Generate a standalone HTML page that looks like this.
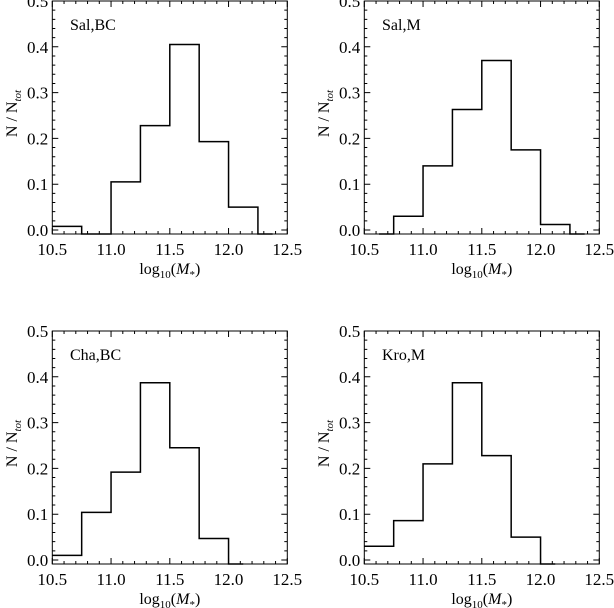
<!DOCTYPE html>
<html><head><meta charset="utf-8"><style>
html,body{margin:0;padding:0;background:#fff;}
svg{display:block;font-family:"Liberation Serif",serif;}
</style></head><body>
<svg id="chart" width="614" height="608" viewBox="0 0 614 608"></svg>
<script>
const panelLabels = ["Sal,BC","Sal,M","Cha,BC","Kro,M"];
const edgesSalBC = [10.5,10.75,11.0,11.25,11.5,11.75,12.0,12.25,12.375];
const valuesSalBC = [0.008,0,0.105,0.228,0.405,0.193,0.05,0];
const edgesSalM = [10.625,10.75,11.0,11.25,11.5,11.75,12.0,12.25,12.375];
const valuesSalM = [0,0.03,0.14,0.263,0.37,0.175,0.012,0];
const edgesChaBC = [10.5,10.75,11.0,11.25,11.5,11.75,12.0,12.125];
const valuesChaBC = [0.01,0.104,0.192,0.387,0.245,0.047,0];
const edgesKroM = [10.5,10.75,11.0,11.25,11.5,11.75,12.0,12.125];
const valuesKroM = [0.03,0.086,0.21,0.387,0.228,0.05,0];
const xTicks = ["10.5","11.0","11.5","12.0","12.5"];
const yTicks = ["0.0","0.1","0.2","0.3","0.4","0.5"];

const allEdges = [edgesSalBC, edgesSalM, edgesChaBC, edgesKroM];
const allValues = [valuesSalBC, valuesSalM, valuesChaBC, valuesKroM];
const NS = "http://www.w3.org/2000/svg";
const svg = document.getElementById('chart');
function mk(tag, attrs, parent){const e=document.createElementNS(NS,tag);for(const k in attrs)e.setAttribute(k,attrs[k]);parent.appendChild(e);return e;}

const offsets = [[0,0],[312,0],[0,330],[312,330]];
offsets.forEach((off,p)=>{
  const g = mk('g',{transform:`translate(${off[0]},${off[1]})`},svg);
  
  
  const L=52.3,R=287.3,T=1,B=234;
  const x = v => L + (v-10.5)/2*(R-L);
  const y0 = 230, per = 458;
  const y = v => v<=0 ? B : y0 - v*per;
  const frame = mk('rect',{x:L,y:T,width:R-L,height:B-T,fill:'none',stroke:'#000','stroke-width':1},g);
  
  
  let d='';
  for(let i=0;i<=20;i++){const xv=10.5+i*0.1;const px=x(xv);const len=(i%5===0)?6:3;d+=`M${px},${B}v${-len}M${px},${T}v${len}`;}
  for(let i=0;i<=25;i++){const yv=i*0.02;const py=y0-yv*per;if(py<T)continue;const len=(i%5===0)?6:3;d+=`M${L},${py}h${len}M${R},${py}h${-len}`;}
  const ticks = mk('path',{d:d,stroke:'#000','stroke-width':1,fill:'none'},g);
  
  
  xTicks.forEach(t=>{
    const tx = mk('text',{x:x(parseFloat(t)),y:B+21,'font-size':17,'text-anchor':'middle'},g);
    tx.textContent=t;
    
    
  });
  yTicks.forEach(t=>{
    const ty = mk('text',{x:L-4,y:y0-parseFloat(t)*per+6,'font-size':17,'text-anchor':'end'},g);
    ty.textContent=t;
    
    
  });
  const xt = mk('text',{x:(L+R)/2,y:B+40,'font-size':16,'text-anchor':'middle'},g);
  xt.innerHTML='log<tspan font-size="11" dy="4">10</tspan><tspan dy="-4">(</tspan><tspan font-style="italic">M</tspan><tspan font-size="11" dy="4">*</tspan><tspan dy="-4">)</tspan>';
  
  
  const yt = mk('text',{transform:`translate(17,${(T+B)/2-4}) rotate(-90)`,'font-size':16,'text-anchor':'middle'},g);
  yt.innerHTML='N / N<tspan font-size="11" font-style="italic" dy="4">tot</tspan>';
  
  
  const lab = mk('text',{x:70,y:30,'font-size':16},g);
  lab.textContent=panelLabels[p];
  
  
  const e=allEdges[p], v=allValues[p];
  let hd='';
  for(let i=0;i<v.length;i++){
    const yy=y(v[i]);
    hd += (i===0?`M${x(e[i])},${yy}`:`V${yy}`) + `H${x(e[i+1])}`;
  }
  const h = mk('path',{d:hd,fill:'none',stroke:'#000','stroke-width':1.5},g);
  
  
});
</script>
</body></html>
